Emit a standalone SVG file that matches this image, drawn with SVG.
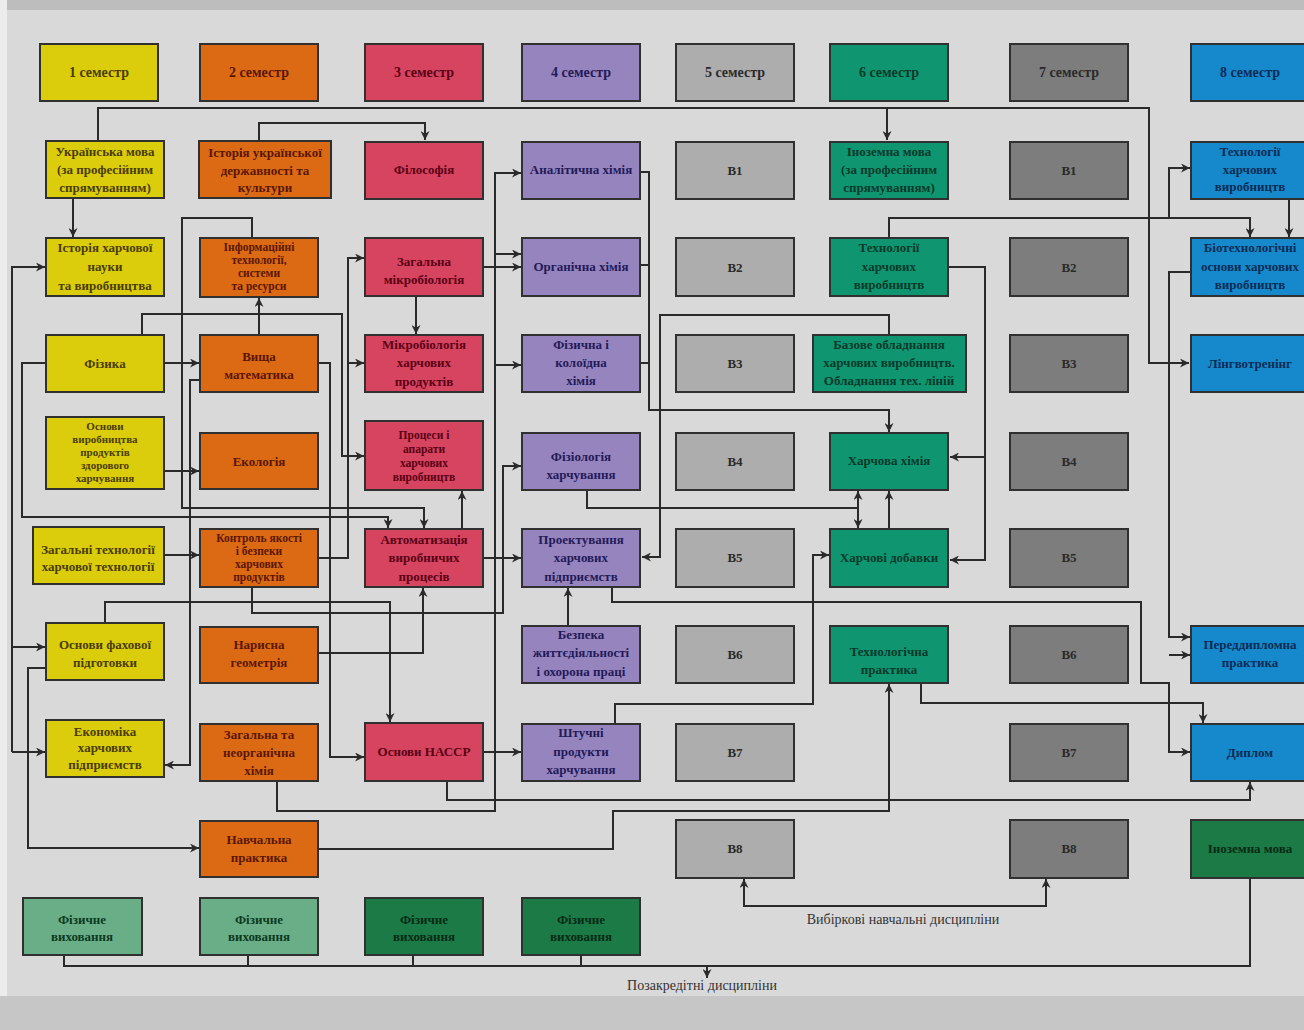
<svg xmlns="http://www.w3.org/2000/svg" width="1304" height="1030" viewBox="0 0 1304 1030">
<style>
.bg{fill:#d9d9d9}
.box{stroke:#303030;stroke-width:2}
.yel{fill:#dccd0c}.org{fill:#dc6a15}.pnk{fill:#d64460}.pur{fill:#9684be}
.lgr{fill:#adadad}.tea{fill:#0f9670}.dgr{fill:#7d7d7d}.blu{fill:#1689cc}
.lgn{fill:#6aae88}.dgn{fill:#1b7a45}
text{font-family:"Liberation Serif","DejaVu Serif",serif;font-size:13px;font-weight:bold;text-anchor:middle}
.hd{font-size:14px}
.sm{font-size:11.5px}
.xs{font-size:11px}
.ty{fill:#4a3c00}.to{fill:#5a1600}.tp{fill:#5a0014}.tu{fill:#231a58}
.tg{fill:#2a2a2a}.tt{fill:#07392a}.tb{fill:#0a2c55}.tl{fill:#0c3a20}.td{fill:#062a14}
.lbl{font-size:14px;font-weight:normal;fill:#333}
.c path{fill:none;stroke:#2a2a2a;stroke-width:2}
</style>
<defs>
<marker id="a" viewBox="0 0 10 10" refX="10" refY="5" markerWidth="9" markerHeight="9" markerUnits="userSpaceOnUse" orient="auto-start-reverse">
<path d="M0,0 L10,5 L0,10 L3,5 z" fill="#2a2a2a"/>
</marker>
</defs>
<rect class="bg" x="0" y="0" width="1304" height="1030"/>
<rect x="0" y="0" width="1304" height="10" fill="#bdbdbd"/>
<rect x="0" y="0" width="7" height="1030" fill="#ececec"/>
<rect x="0" y="996" width="1304" height="34" fill="#c6c6c6"/>

<g class="c" id="connectors">
<path d="M98,141 V108 H1149 V363 H1189" marker-end="url(#a)"/>
<path d="M887,108 V140" marker-end="url(#a)"/>
<path d="M259,141 V123 H425 V140" marker-end="url(#a)"/>
<path d="M73,198 V237" marker-end="url(#a)"/>
<path d="M12,752 V267 H45" marker-end="url(#a)"/>
<path d="M12,647 H45" marker-end="url(#a)"/>
<path d="M12,752 H45" marker-end="url(#a)"/>
<path d="M164,363 H199" marker-end="url(#a)"/>
<path d="M164,471 H199" marker-end="url(#a)"/>
<path d="M164,555 H199" marker-end="url(#a)"/>
<path d="M259,335 V298" marker-end="url(#a)"/>
<path d="M142,335 V314 H342 V456 H364" marker-end="url(#a)"/>
<path d="M252,238 V218 H182 V508 H424 V528" marker-end="url(#a)"/>
<path d="M46,363 H22 V517 H388 V528" marker-end="url(#a)"/>
<path d="M200,380 H190 V765 H165" marker-end="url(#a)"/>
<path d="M319,363 H330 V757 H364" marker-end="url(#a)"/>
<path d="M319,558 H348 V258 H364" marker-end="url(#a)"/>
<path d="M348,363 H364" marker-end="url(#a)"/>
<path d="M252,587 V613 H503 V466 H521" marker-end="url(#a)"/>
<path d="M105,623 V602 H390 V722" marker-end="url(#a)"/>
<path d="M319,653 H423 V588" marker-end="url(#a)"/>
<path d="M462,529 V491" marker-end="url(#a)"/>
<path d="M483,558 H521" marker-end="url(#a)"/>
<path d="M416,296 V334" marker-end="url(#a)"/>
<path d="M483,267 H521" marker-end="url(#a)"/>
<path d="M277,781 V811 H495 V173 H521" marker-end="url(#a)"/>
<path d="M495,254 H521" marker-end="url(#a)"/>
<path d="M495,365 H521" marker-end="url(#a)"/>
<path d="M46,668 H28 V848 H199" marker-end="url(#a)"/>
<path d="M483,752 H521" marker-end="url(#a)"/>
<path d="M447,781 V800 H1250 V782" marker-end="url(#a)"/>
<path d="M319,849 H613 V811 H889 V684" marker-end="url(#a)"/>
<path d="M568,626 V588" marker-end="url(#a)"/>
<path d="M615,724 V704 H813 V555 H829" marker-end="url(#a)"/>
<path d="M641,172 H649 V410 H889 V432" marker-end="url(#a)"/>
<path d="M641,265 H649"/>
<path d="M641,363 H649"/>
<path d="M889,335 V315 H660 V557 H642" marker-end="url(#a)"/>
<path d="M587,490 V508 H858"/>
<path d="M858,491 V528" marker-start="url(#a)" marker-end="url(#a)"/>
<path d="M889,529 V491" marker-end="url(#a)"/>
<path d="M949,267 H985 V560 H950" marker-end="url(#a)"/>
<path d="M985,457 H950" marker-end="url(#a)"/>
<path d="M889,238 V218 H1250 V237" marker-end="url(#a)"/>
<path d="M1169,218 V168 H1190" marker-end="url(#a)"/>
<path d="M1289,199 V237" marker-end="url(#a)"/>
<path d="M1191,272 H1169 V637 H1190" marker-end="url(#a)"/>
<path d="M612,587 V602 H1141 V683 H1169 V752 H1190" marker-end="url(#a)"/>
<path d="M1169,655 H1190" marker-end="url(#a)"/>
<path d="M921,683 V703 H1203 V723" marker-end="url(#a)"/>
<path d="M744,879 V906 H1046 V879" marker-start="url(#a)" marker-end="url(#a)"/>
<path d="M64,955 V966 H1250 V878"/>
<path d="M248,955 V966 M413,955 V966 M581,955 V966"/>
<path d="M707,966 V978" marker-end="url(#a)"/>
</g>

<g id="sem1"><rect class="box yel" x="40" y="44" width="118" height="57"/><text class="ty hd" x="99" y="77">1 семестр</text></g>
<g id="sem2"><rect class="box org" x="200" y="44" width="118" height="57"/><text class="to hd" x="259" y="77">2 семестр</text></g>
<g id="sem3"><rect class="box pnk" x="365" y="44" width="118" height="57"/><text class="tp hd" x="424" y="77">3 семестр</text></g>
<g id="sem4"><rect class="box pur" x="522" y="44" width="118" height="57"/><text class="tu hd" x="581" y="77">4 семестр</text></g>
<g id="sem5"><rect class="box lgr" x="676" y="44" width="118" height="57"/><text class="tg hd" x="735" y="77">5 семестр</text></g>
<g id="sem6"><rect class="box tea" x="830" y="44" width="118" height="57"/><text class="tt hd" x="889" y="77">6 семестр</text></g>
<g id="sem7"><rect class="box dgr" x="1010" y="44" width="118" height="57"/><text class="tg hd" x="1069" y="77">7 семестр</text></g>
<g id="sem8"><rect class="box blu" x="1191" y="44" width="118" height="57"/><text class="tb hd" x="1250" y="77">8 семестр</text></g>

<g id="ukr-mova"><rect class="box yel" x="46" y="141" width="118" height="57"/><text class="ty"><tspan x="105" y="156">Українська мова</tspan><tspan x="105" y="174">(за професійним</tspan><tspan x="105" y="192">спрямуванням)</tspan></text></g>
<g id="ist-harch"><rect class="box yel" x="46" y="238" width="118" height="58"/><text class="ty"><tspan x="105" y="252">Історія харчової</tspan><tspan x="105" y="271">науки</tspan><tspan x="105" y="290">та виробництва</tspan></text></g>
<g id="fizyka"><rect class="box yel" x="46" y="335" width="118" height="57"/><text class="ty" x="105" y="368">Фізика</text></g>
<g id="osn-vyrob"><rect class="box yel" x="46" y="417" width="118" height="72"/><text class="ty xs"><tspan x="105" y="430">Основи</tspan><tspan x="105" y="443">виробництва</tspan><tspan x="105" y="456">продуктів</tspan><tspan x="105" y="469">здорового</tspan><tspan x="105" y="482">харчування</tspan></text></g>
<g id="zag-tech"><rect class="box yel" x="33" y="527" width="131" height="57"/><text class="ty"><tspan x="98" y="554">Загальні технології</tspan><tspan x="98" y="571">харчової технології</tspan></text></g>
<g id="osn-fah"><rect class="box yel" x="46" y="623" width="118" height="57"/><text class="ty"><tspan x="105" y="649">Основи фахової</tspan><tspan x="105" y="667">підготовки</tspan></text></g>
<g id="ekonom"><rect class="box yel" x="46" y="720" width="118" height="57"/><text class="ty"><tspan x="105" y="736">Економіка</tspan><tspan x="105" y="752">харчових</tspan><tspan x="105" y="769">підприємств</tspan></text></g>
<g id="fv1"><rect class="box lgn" x="23" y="898" width="119" height="57"/><text class="tl"><tspan x="82" y="924">Фізичне</tspan><tspan x="82" y="941">виховання</tspan></text></g>

<g id="ist-ukr"><rect class="box org" x="199" y="141" width="132" height="57"/><text class="to"><tspan x="265" y="157">Історія української</tspan><tspan x="265" y="175">державності та</tspan><tspan x="265" y="192">культури</tspan></text></g>
<g id="inform"><rect class="box org" x="200" y="238" width="118" height="59"/><text class="to sm"><tspan x="259" y="251">Інформаційні</tspan><tspan x="259" y="264">технології,</tspan><tspan x="259" y="277">системи</tspan><tspan x="259" y="290">та ресурси</tspan></text></g>
<g id="vyshcha"><rect class="box org" x="200" y="335" width="118" height="57"/><text class="to"><tspan x="259" y="361">Вища</tspan><tspan x="259" y="379">математика</tspan></text></g>
<g id="ekolog"><rect class="box org" x="200" y="433" width="118" height="56"/><text class="to" x="259" y="466">Екологія</text></g>
<g id="kontrol"><rect class="box org" x="200" y="529" width="118" height="58"/><text class="to sm"><tspan x="259" y="542">Контроль якості</tspan><tspan x="259" y="555">і безпеки</tspan><tspan x="259" y="568">харчових</tspan><tspan x="259" y="581">продуктів</tspan></text></g>
<g id="narysna"><rect class="box org" x="200" y="627" width="118" height="56"/><text class="to"><tspan x="259" y="649">Нарисна</tspan><tspan x="259" y="667">геометрія</tspan></text></g>
<g id="zag-neorg"><rect class="box org" x="200" y="724" width="118" height="57"/><text class="to"><tspan x="259" y="739">Загальна та</tspan><tspan x="259" y="757">неорганічна</tspan><tspan x="259" y="775">хімія</tspan></text></g>
<g id="navch"><rect class="box org" x="200" y="821" width="118" height="56"/><text class="to"><tspan x="259" y="844">Навчальна</tspan><tspan x="259" y="862">практика</tspan></text></g>
<g id="fv2"><rect class="box lgn" x="200" y="898" width="118" height="57"/><text class="tl"><tspan x="259" y="924">Фізичне</tspan><tspan x="259" y="941">виховання</tspan></text></g>

<g id="filos"><rect class="box pnk" x="365" y="142" width="118" height="57"/><text class="tp" x="424" y="174">Філософія</text></g>
<g id="zag-mikro"><rect class="box pnk" x="365" y="238" width="118" height="58"/><text class="tp"><tspan x="424" y="266">Загальна</tspan><tspan x="424" y="284">мікробіологія</tspan></text></g>
<g id="mikro-harch"><rect class="box pnk" x="365" y="335" width="118" height="57"/><text class="tp"><tspan x="424" y="349">Мікробіологія</tspan><tspan x="424" y="367">харчових</tspan><tspan x="424" y="386">продуктів</tspan></text></g>
<g id="procesy"><rect class="box pnk" x="365" y="421" width="118" height="69"/><text class="tp sm"><tspan x="424" y="439">Процеси і</tspan><tspan x="424" y="453">апарати</tspan><tspan x="424" y="467">харчових</tspan><tspan x="424" y="481">виробництв</tspan></text></g>
<g id="avtom"><rect class="box pnk" x="365" y="529" width="118" height="58"/><text class="tp"><tspan x="424" y="544">Автоматизація</tspan><tspan x="424" y="562">виробничих</tspan><tspan x="424" y="581">процесів</tspan></text></g>
<g id="hassp"><rect class="box pnk" x="365" y="723" width="118" height="58"/><text class="tp" x="424" y="756">Основи НАССР</text></g>
<g id="fv3"><rect class="box dgn" x="365" y="898" width="118" height="57"/><text class="td"><tspan x="424" y="924">Фізичне</tspan><tspan x="424" y="941">виховання</tspan></text></g>

<g id="analit"><rect class="box pur" x="522" y="142" width="118" height="57"/><text class="tu" x="581" y="174">Аналітична хімія</text></g>
<g id="organ"><rect class="box pur" x="522" y="238" width="118" height="58"/><text class="tu" x="581" y="271">Органічна хімія</text></g>
<g id="fiz-kol"><rect class="box pur" x="522" y="335" width="118" height="57"/><text class="tu"><tspan x="581" y="349">Фізична і</tspan><tspan x="581" y="367">колоїдна</tspan><tspan x="581" y="385">хімія</tspan></text></g>
<g id="fiziol"><rect class="box pur" x="522" y="433" width="118" height="57"/><text class="tu"><tspan x="581" y="461">Фізіологія</tspan><tspan x="581" y="479">харчування</tspan></text></g>
<g id="proekt"><rect class="box pur" x="522" y="529" width="118" height="58"/><text class="tu"><tspan x="581" y="544">Проектування</tspan><tspan x="581" y="562">харчових</tspan><tspan x="581" y="581">підприємств</tspan></text></g>
<g id="bezpeka"><rect class="box pur" x="522" y="626" width="118" height="57"/><text class="tu"><tspan x="581" y="639">Безпека</tspan><tspan x="581" y="657">життєдіяльності</tspan><tspan x="581" y="676">і охорона праці</tspan></text></g>
<g id="shtuchni"><rect class="box pur" x="522" y="724" width="118" height="57"/><text class="tu"><tspan x="581" y="737">Штучні</tspan><tspan x="581" y="756">продукти</tspan><tspan x="581" y="774">харчування</tspan></text></g>
<g id="fv4"><rect class="box dgn" x="522" y="898" width="118" height="57"/><text class="td"><tspan x="581" y="924">Фізичне</tspan><tspan x="581" y="941">виховання</tspan></text></g>

<g id="s5-b1"><rect class="box lgr" x="676" y="142" width="118" height="57"/><text class="tg" x="735" y="175">В1</text></g>
<g id="s5-b2"><rect class="box lgr" x="676" y="238" width="118" height="58"/><text class="tg" x="735" y="272">В2</text></g>
<g id="s5-b3"><rect class="box lgr" x="676" y="335" width="118" height="57"/><text class="tg" x="735" y="368">В3</text></g>
<g id="s5-b4"><rect class="box lgr" x="676" y="433" width="118" height="57"/><text class="tg" x="735" y="466">В4</text></g>
<g id="s5-b5"><rect class="box lgr" x="676" y="529" width="118" height="58"/><text class="tg" x="735" y="562">В5</text></g>
<g id="s5-b6"><rect class="box lgr" x="676" y="626" width="118" height="57"/><text class="tg" x="735" y="659">В6</text></g>
<g id="s5-b7"><rect class="box lgr" x="676" y="724" width="118" height="57"/><text class="tg" x="735" y="757">В7</text></g>
<g id="s5-b8"><rect class="box lgr" x="676" y="820" width="118" height="58"/><text class="tg" x="735" y="853">В8</text></g>

<g id="inoz6"><rect class="box tea" x="830" y="142" width="118" height="57"/><text class="tt"><tspan x="889" y="156">Іноземна мова</tspan><tspan x="889" y="174">(за професійним</tspan><tspan x="889" y="192">спрямуванням)</tspan></text></g>
<g id="tech6"><rect class="box tea" x="830" y="238" width="118" height="58"/><text class="tt"><tspan x="889" y="252">Технології</tspan><tspan x="889" y="271">харчових</tspan><tspan x="889" y="289">виробництв</tspan></text></g>
<g id="bazove"><rect class="box tea" x="813" y="335" width="153" height="57"/><text class="tt"><tspan x="889" y="349">Базове обладнання</tspan><tspan x="889" y="367">харчових виробництв.</tspan><tspan x="889" y="385">Обладнання тех. ліній</tspan></text></g>
<g id="harch-him"><rect class="box tea" x="830" y="433" width="118" height="57"/><text class="tt" x="889" y="465">Харчова хімія</text></g>
<g id="harch-dob"><rect class="box tea" x="830" y="529" width="118" height="58"/><text class="tt" x="889" y="562">Харчові добавки</text></g>
<g id="tech-prakt"><rect class="box tea" x="830" y="626" width="118" height="57"/><text class="tt"><tspan x="889" y="656">Технологічна</tspan><tspan x="889" y="674">практика</tspan></text></g>

<g id="s7-b1"><rect class="box dgr" x="1010" y="142" width="118" height="57"/><text class="tg" x="1069" y="175">В1</text></g>
<g id="s7-b2"><rect class="box dgr" x="1010" y="238" width="118" height="58"/><text class="tg" x="1069" y="272">В2</text></g>
<g id="s7-b3"><rect class="box dgr" x="1010" y="335" width="118" height="57"/><text class="tg" x="1069" y="368">В3</text></g>
<g id="s7-b4"><rect class="box dgr" x="1010" y="433" width="118" height="57"/><text class="tg" x="1069" y="466">В4</text></g>
<g id="s7-b5"><rect class="box dgr" x="1010" y="529" width="118" height="58"/><text class="tg" x="1069" y="562">В5</text></g>
<g id="s7-b6"><rect class="box dgr" x="1010" y="626" width="118" height="57"/><text class="tg" x="1069" y="659">В6</text></g>
<g id="s7-b7"><rect class="box dgr" x="1010" y="724" width="118" height="57"/><text class="tg" x="1069" y="757">В7</text></g>
<g id="s7-b8"><rect class="box dgr" x="1010" y="820" width="118" height="58"/><text class="tg" x="1069" y="853">В8</text></g>

<g id="tech8"><rect class="box blu" x="1191" y="142" width="118" height="57"/><text class="tb"><tspan x="1250" y="156">Технології</tspan><tspan x="1250" y="174">харчових</tspan><tspan x="1250" y="191">виробництв</tspan></text></g>
<g id="biotech"><rect class="box blu" x="1191" y="238" width="118" height="58"/><text class="tb"><tspan x="1250" y="252">Біотехнологічні</tspan><tspan x="1250" y="271">основи харчових</tspan><tspan x="1250" y="289">виробництв</tspan></text></g>
<g id="lingvo"><rect class="box blu" x="1191" y="335" width="118" height="57"/><text class="tb" x="1250" y="368">Лінгвотренінг</text></g>
<g id="peredd"><rect class="box blu" x="1191" y="626" width="118" height="57"/><text class="tb"><tspan x="1250" y="649">Переддипломна</tspan><tspan x="1250" y="667">практика</tspan></text></g>
<g id="dyplom"><rect class="box blu" x="1191" y="724" width="118" height="57"/><text class="tb" x="1250" y="757">Диплом</text></g>
<g id="inoz8"><rect class="box dgn" x="1191" y="820" width="118" height="58"/><text class="td" x="1250" y="853">Іноземна мова</text></g>

<g id="labels">
<text class="lbl" x="903" y="924">Вибіркові навчальні дисципліни</text>
<text class="lbl" x="702" y="990">Позакредітні дисципліни</text>
</g>
</svg>
